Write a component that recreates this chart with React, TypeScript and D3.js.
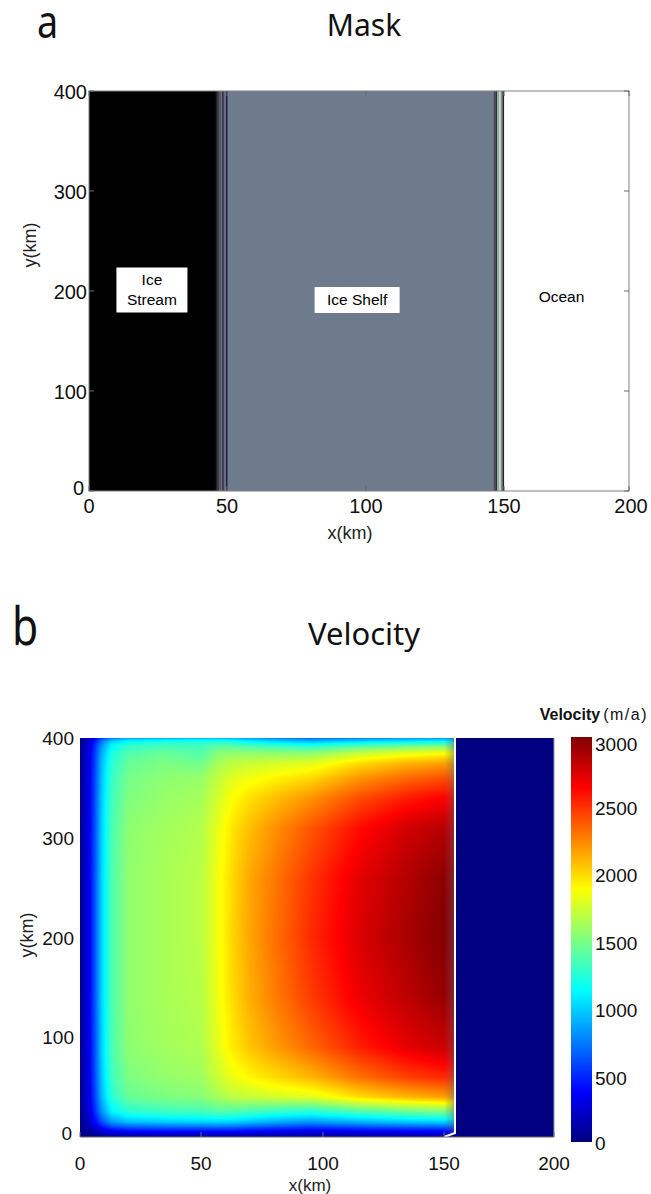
import React, { useMemo } from 'react';
import * as d3 from 'd3';

// ---------- shared ticks ----------
const xTicks = [0, 50, 100, 150, 200];
const yTicks = [0, 100, 200, 300, 400];
const cbTicks = [0, 500, 1000, 1500, 2000, 2500, 3000];

// ---------- panel a: mask bands (km edges) ----------
const maskEdges = [0, 46.0, 46.7, 47.4, 48.1, 48.9, 49.6, 50.3, 146.1, 146.8, 147.5, 148.3, 149.0, 149.6, 150.1, 200];
const maskColors = ['#000000', '#1f1f22', '#3a3a48', '#555566', '#3a3b52', '#676b82', '#1e2042', '#6e7b8c', '#454b59', '#2b3039', '#8fa8a0', '#bccfc6', '#5b6a68', '#222222', '#ffffff'];
const maskLabels = [
  { lines: ['Ice', 'Stream'], x: 22.8, y: 201, boxW: 71, boxH: 45 },
  { lines: ['Ice Shelf'], x: 96.8, y: 191, boxW: 85, boxH: 26 },
  { lines: ['Ocean'], x: 173, y: 194, boxW: 60, boxH: 26 },
];

// ---------- panel b: velocity grid (m/a) ----------
const velX = [0, 3, 6, 9, 13, 20, 35, 50, 57, 63, 70, 80, 95, 115, 135, 150, 155];
const velY = [0, 3, 6, 10, 15, 25, 40, 60, 90, 140, 200, 260, 310, 340, 360, 375, 385, 392, 397, 400];
const velocity = [
  [0, 20, 40, 70, 100, 110, 110, 120, 125, 117, 112, 101, 102, 107, 120, 120, 120],
  [10, 40, 80, 140, 190, 220, 230, 230, 235, 234, 225, 213, 194, 215, 230, 240, 240],
  [20, 60, 150, 250, 340, 390, 410, 410, 418, 400, 385, 350, 324, 351, 380, 390, 380],
  [30, 110, 250, 420, 570, 650, 680, 690, 695, 683, 638, 600, 546, 605, 640, 660, 650],
  [40, 150, 360, 600, 810, 930, 970, 990, 1003, 985, 939, 876, 814, 897, 960, 990, 970],
  [50, 200, 480, 800, 1080, 1240, 1300, 1320, 1359, 1356, 1313, 1264, 1212, 1336, 1420, 1470, 1450],
  [60, 230, 550, 920, 1240, 1430, 1490, 1520, 1615, 1679, 1708, 1744, 1785, 1970, 2090, 2150, 2120],
  [60, 240, 580, 960, 1300, 1490, 1560, 1590, 1727, 1825, 1895, 1975, 2090, 2291, 2440, 2510, 2480],
  [60, 250, 590, 990, 1340, 1540, 1600, 1640, 1798, 1932, 2046, 2160, 2320, 2535, 2700, 2780, 2740],
  [60, 250, 600, 1000, 1350, 1550, 1620, 1660, 1830, 1981, 2111, 2252, 2450, 2672, 2820, 2930, 2890],
  [60, 250, 600, 1000, 1350, 1550, 1620, 1670, 1840, 2000, 2140, 2290, 2500, 2730, 2880, 2990, 2950],
  [60, 250, 600, 1000, 1350, 1550, 1620, 1670, 1840, 1991, 2131, 2270, 2470, 2701, 2850, 2960, 2920],
  [60, 250, 590, 990, 1340, 1540, 1600, 1650, 1809, 1952, 2064, 2196, 2370, 2594, 2760, 2840, 2800],
  [60, 240, 580, 970, 1310, 1500, 1570, 1610, 1747, 1874, 1962, 2058, 2190, 2399, 2550, 2630, 2600],
  [60, 240, 570, 950, 1280, 1470, 1540, 1570, 1696, 1786, 1839, 1901, 1985, 2184, 2320, 2390, 2360],
  [60, 230, 550, 920, 1240, 1430, 1490, 1450, 1615, 1679, 1708, 1744, 1785, 1970, 2090, 2150, 2120],
  [50, 220, 530, 880, 1190, 1360, 1430, 1360, 1523, 1551, 1549, 1541, 1536, 1697, 1800, 1850, 1830],
  [50, 210, 490, 820, 1110, 1270, 1330, 1320, 1390, 1385, 1342, 1292, 1240, 1365, 1450, 1500, 1480],
  [40, 180, 430, 720, 970, 1120, 1170, 1190, 1195, 1151, 1079, 988, 897, 985, 1040, 1080, 1060],
  [30, 140, 330, 550, 740, 850, 890, 910, 909, 888, 836, 766, 694, 761, 810, 840, 830],
];
// ice front (km) and ocean
const frontX = [150, 155, 155];
const frontY = [0, 4, 400];
const oceanVelocity = 0;
const vMax = 3000;

// ---------- helpers ----------
const clamp01 = (v: number) => Math.max(0, Math.min(1, v));
function jet(t: number): [number, number, number] {
  const r = clamp01(1.5 - Math.abs(4 * t - 3));
  const g = clamp01(1.5 - Math.abs(4 * t - 2));
  const b = clamp01(1.5 - Math.abs(4 * t - 1));
  return [Math.round(r * 255), Math.round(g * 255), Math.round(b * 255)];
}
const jetCss = (t: number) => {
  const [r, g, b] = jet(t);
  return `rgb(${r},${g},${b})`;
};
function sampleGrid(xk: number, yk: number) {
  const nx = velX.length, ny = velY.length;
  const i = Math.max(0, Math.min(nx - 2, d3.bisectRight(velX, xk) - 1));
  const j = Math.max(0, Math.min(ny - 2, d3.bisectRight(velY, yk) - 1));
  const tx = clamp01((xk - velX[i]) / (velX[i + 1] - velX[i]));
  const ty = clamp01((yk - velY[j]) / (velY[j + 1] - velY[j]));
  const a = velocity[j][i] * (1 - tx) + velocity[j][i + 1] * tx;
  const b = velocity[j + 1][i] * (1 - tx) + velocity[j + 1][i + 1] * tx;
  return a * (1 - ty) + b * ty;
}

const AX = '"Liberation Sans", Arial, sans-serif';
const TITLE = '"Noto Sans", "Open Sans", sans-serif';
const axisColor = '#6a6a6a';

export default function App() {
  // panel a scales
  const xA = d3.scaleLinear().domain(xTicks).range([89, 227, 366, 504, 629]);
  const yA = d3.scaleLinear().domain([0, 400]).range([491, 91]);
  // panel b scales
  const xB = d3.scaleLinear().domain(xTicks).range([80, 201, 323, 444, 554]);
  const yB = d3.scaleLinear().domain([0, 400]).range([1137, 738]);
  const cb = d3.scaleLinear().domain([0, vMax]).range([1142, 737]);

  const img = useMemo(() => {
    const x0 = xB(0), x1 = Math.ceil(xB(d3.max(frontX)! + 1));
    const y0 = yB(400), y1 = yB(0);
    const W = Math.round(x1 - x0), H = Math.round(y1 - y0);
    const canvas = document.createElement('canvas');
    canvas.width = W; canvas.height = H;
    const ctx = canvas.getContext('2d')!;
    const id = ctx.createImageData(W, H);
    for (let py = 0; py < H; py++) {
      const yk = yB.invert(y0 + py + 0.5);
      for (let px = 0; px < W; px++) {
        const xk = xB.invert(x0 + px + 0.5);
        const v = sampleGrid(xk, yk);
        const [r, g, b] = jet(v / vMax);
        const k = (py * W + px) * 4;
        id.data[k] = r; id.data[k + 1] = g; id.data[k + 2] = b; id.data[k + 3] = 255;
      }
    }
    ctx.putImageData(id, 0, 0);
    return { href: canvas.toDataURL(), x: x0, y: y0, w: W, h: H };
  }, []);

  const frontPts = frontX.map((f, i) => [xB(f), yB(frontY[i])] as [number, number]);
  const icePoly = [[xB(0), yB(0)], ...frontPts, [xB(0), yB(400)]];
  const oceanPoly = [...frontPts, [xB(200), yB(400)], [xB(200), yB(0)]];
  const line = d3.line();

  const jetStops = [0, 0.125, 0.375, 0.625, 0.875, 1];

  return (
    <svg width={651} height={1194} style={{ position: 'absolute', left: 0, top: 0, background: '#fff' }}>
      <defs>
        <clipPath id="iceClip"><path d={line(icePoly as any)! + 'Z'} /></clipPath>
        <linearGradient id="cbGrad" x1="0" y1="1" x2="0" y2="0">
          {jetStops.map((t) => <stop key={t} offset={t} stopColor={jetCss(t)} />)}
        </linearGradient>
        <linearGradient id="frontShade" x1="0" y1="0" x2="1" y2="0">
          <stop offset="0" stopColor="#5a5a70" stopOpacity="0" />
          <stop offset="1" stopColor="#5a5a70" stopOpacity="0.45" />
        </linearGradient>
      </defs>

      {/* ================= Panel a ================= */}
      <text transform="translate(37,38) scale(0.82,1)" fontFamily={TITLE} fontSize={46} fill="#111">a</text>
      <text x={364} y={36} textAnchor="middle" fontFamily={TITLE} fontSize={30} fill="#111">Mask</text>

      {maskColors.map((c, i) => (
        <rect key={i} x={xA(maskEdges[i])} y={yA(400)} width={xA(maskEdges[i + 1]) - xA(maskEdges[i])} height={yA(0) - yA(400)} fill={c} />
      ))}
      <rect x={xA(0)} y={yA(400)} width={xA(200) - xA(0)} height={yA(0) - yA(400)} fill="none" stroke="#808080" strokeWidth={1} />
      {xTicks.map((t) => (
        <g key={'xa' + t} stroke={axisColor}>
          <line x1={xA(t)} x2={xA(t)} y1={yA(0)} y2={yA(0) - 5} />
          <line x1={xA(t)} x2={xA(t)} y1={yA(400)} y2={yA(400) + 5} />
        </g>
      ))}
      {yTicks.map((t) => (
        <g key={'ya' + t} stroke={axisColor}>
          <line x1={xA(0)} x2={xA(0) + 5} y1={yA(t)} y2={yA(t)} />
          <line x1={xA(200)} x2={xA(200) - 5} y1={yA(t)} y2={yA(t)} />
        </g>
      ))}
      {xTicks.map((t) => (
        <text key={'xal' + t} x={xA(t) + (t === 200 ? 2 : 0)} y={513} textAnchor="middle" fontFamily={AX} fontSize={20} fill="#111">{t}</text>
      ))}
      {yTicks.map((t) => (
        <text key={'yal' + t} x={t === 0 ? 84 : 87} y={yA(t) + (t === 0 ? 4 : 8)} textAnchor="end" fontFamily={AX} fontSize={20} fill="#111">{t}</text>
      ))}
      <text x={350} y={539} textAnchor="middle" fontFamily={AX} fontSize={18} fill="#222">x(km)</text>
      <text transform="translate(36,245) rotate(-90)" textAnchor="middle" fontFamily={AX} fontSize={18} fill="#222">y(km)</text>

      {maskLabels.map((l, i) => {
        const cx = xA(l.x), cy = yA(l.y);
        return (
          <g key={'ml' + i}>
            <rect x={cx - l.boxW / 2} y={cy - l.boxH / 2} width={l.boxW} height={l.boxH} fill="#fff" />
            {l.lines.map((s, k) => (
              <text key={k} x={cx} y={cy + (k - (l.lines.length - 1) / 2) * 20 + 5} textAnchor="middle" fontFamily={AX} fontSize={15.5} fill="#000">{s}</text>
            ))}
          </g>
        );
      })}

      {/* ================= Panel b ================= */}
      <text transform="translate(12,645) scale(0.82,1)" fontFamily={TITLE} fontSize={52} fill="#111">b</text>
      <text x={364} y={645} textAnchor="middle" fontFamily={TITLE} fontSize={31} fill="#111">Velocity</text>

      <path d={line(oceanPoly as any)! + 'Z'} fill={jetCss(oceanVelocity / vMax)} />
      <image href={img.href} x={img.x} y={img.y} width={img.w} height={img.h} preserveAspectRatio="none" clipPath="url(#iceClip)" />
      <rect x={xB(150)} y={yB(400)} width={xB(155) - xB(150)} height={yB(4) - yB(400)} fill="url(#frontShade)" />
      <path d={line(frontPts)!} fill="none" stroke="#fff" strokeWidth={2} />

      <line x1={xB(0)} x2={xB(200)} y1={yB(0)} y2={yB(0)} stroke={axisColor} />
      <line x1={xB(200)} x2={xB(200)} y1={yB(0)} y2={yB(400)} stroke="#9a9a9a" />
      {xTicks.map((t) => (
        <line key={'xbt' + t} x1={xB(t)} x2={xB(t)} y1={yB(0)} y2={yB(0) - 5} stroke={axisColor} />
      ))}
      {xTicks.map((t) => (
        <text key={'xbl' + t} x={xB(t)} y={1170} textAnchor="middle" fontFamily={AX} fontSize={19} fill="#111">{t}</text>
      ))}
      {yTicks.map((t) => (
        <text key={'ybl' + t} x={t === 0 ? 72 : 74} y={yB(t) + (t === 0 ? 3 : 7)} textAnchor="end" fontFamily={AX} fontSize={19} fill="#111">{t}</text>
      ))}
      <text x={310} y={1191} textAnchor="middle" fontFamily={AX} fontSize={17} fill="#222">x(km)</text>
      <text transform="translate(33,935) rotate(-90)" textAnchor="middle" fontFamily={AX} fontSize={18} fill="#222">y(km)</text>

      {/* colorbar */}
      <rect x={571} y={cb(vMax)} width={21} height={cb(0) - cb(vMax)} fill="url(#cbGrad)" />
      {cbTicks.map((t) => (
        <text key={'cb' + t} x={595} y={cb(t) + (t === vMax ? 14 : t === 0 ? 8 : 10)} fontFamily={AX} fontSize={19} fill="#111">{t}</text>
      ))}
      <text x={648} y={720} textAnchor="end" fontFamily={AX} fontSize={16} fill="#111">
        <tspan fontWeight="bold">Velocity</tspan>
        <tspan dx={3} letterSpacing={1.5}>(m/a)</tspan>
      </text>
    </svg>
  );
}
